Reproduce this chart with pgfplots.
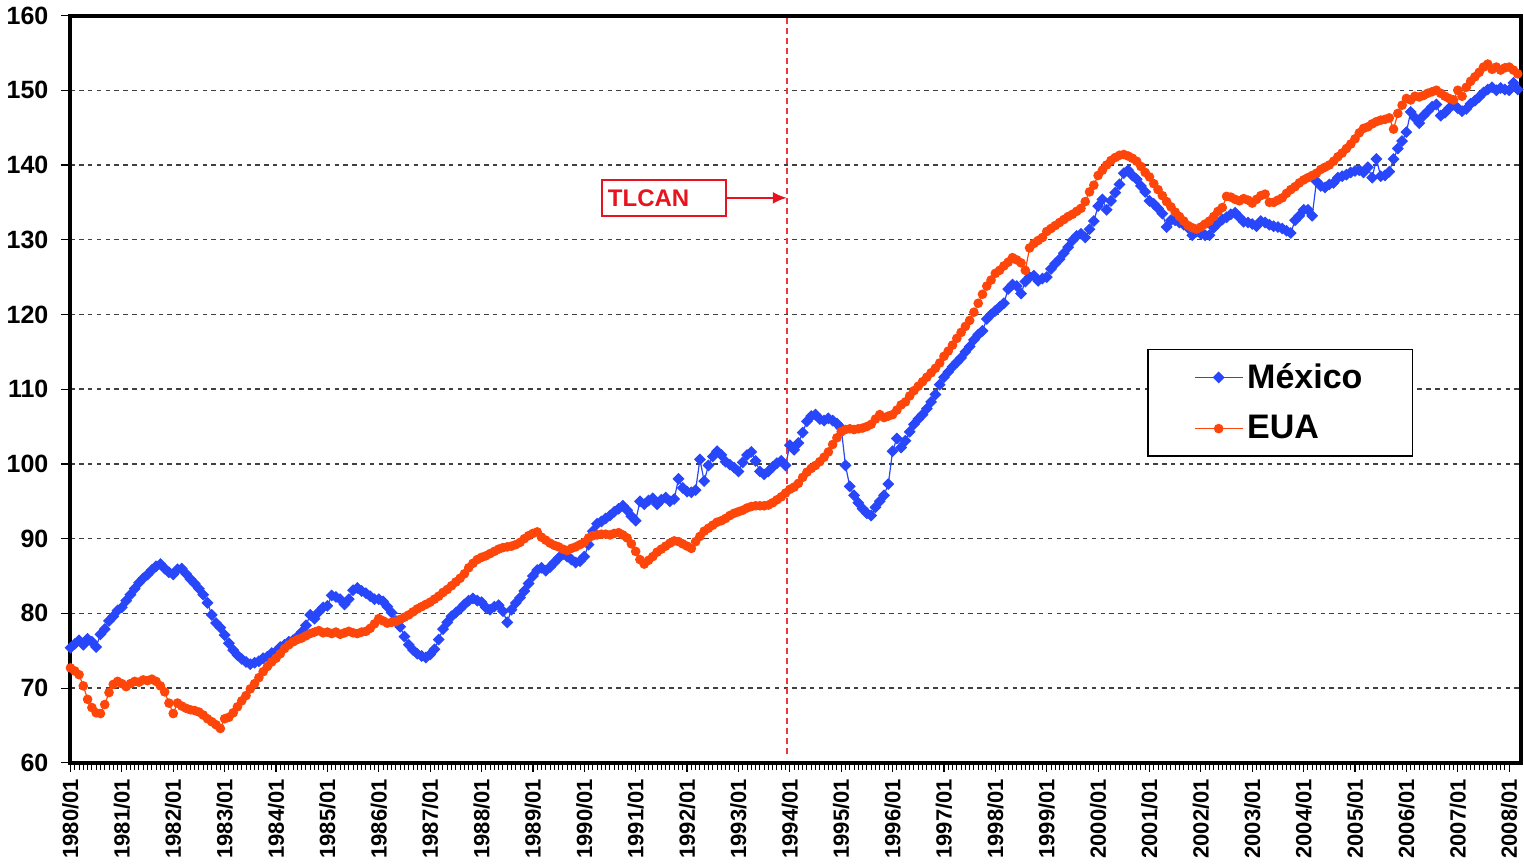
\documentclass[border=0pt]{standalone}
\usepackage{fontspec}
\setmainfont{Liberation Sans}
\usepackage{pgfplots}
\usepackage{pgfplotstable}
\pgfplotsset{compat=1.18}
\usetikzlibrary{arrows.meta}
\definecolor{mxblue}{RGB}{40,70,250}
\definecolor{euared}{RGB}{255,70,10}
\definecolor{tlred}{RGB}{230,20,30}

% Mexico, monthly from 1980/01
\pgfplotstableread[row sep=\\]{v\\
75.4\\ 75.9\\ 76.4\\ 75.8\\ 76.6\\ 76.2\\ 75.5\\ 77.2\\ 77.9\\ 79.0\\ 79.6\\ 80.4\\
80.8\\ 81.7\\ 82.5\\ 83.3\\ 84.1\\ 84.7\\ 85.2\\ 85.8\\ 86.3\\ 86.6\\ 86.0\\ 85.5\\
85.2\\ 85.9\\ 86.0\\ 85.3\\ 84.6\\ 84.0\\ 83.3\\ 82.5\\ 81.4\\ 79.8\\ 78.7\\ 78.1\\
77.1\\ 76.0\\ 75.1\\ 74.4\\ 73.9\\ 73.5\\ 73.2\\ 73.4\\ 73.6\\ 74.0\\ 74.2\\ 74.7\\
74.9\\ 75.5\\ 75.8\\ 76.2\\ 76.4\\ 76.9\\ 77.5\\ 78.4\\ 79.8\\ 79.3\\ 80.2\\ 80.8\\
81.0\\ 82.4\\ 82.2\\ 81.9\\ 81.2\\ 81.9\\ 83.1\\ 83.4\\ 83.0\\ 82.7\\ 82.3\\ 81.9\\
81.9\\ 81.6\\ 80.9\\ 80.1\\ 79.0\\ 78.2\\ 76.9\\ 75.8\\ 75.1\\ 74.6\\ 74.3\\ 74.1\\
74.5\\ 75.2\\ 76.5\\ 77.9\\ 78.8\\ 79.6\\ 80.1\\ 80.6\\ 81.2\\ 81.7\\ 82.0\\ 81.7\\
81.5\\ 80.8\\ 80.5\\ 80.9\\ 81.1\\ 80.3\\ 78.8\\ 80.5\\ 81.4\\ 82.1\\ 83.0\\ 84.0\\
85.0\\ 85.8\\ 86.1\\ 85.7\\ 86.2\\ 86.8\\ 87.4\\ 87.9\\ 87.6\\ 87.2\\ 86.8\\ 87.0\\
87.6\\ 89.2\\ 91.0\\ 92.0\\ 92.3\\ 92.7\\ 93.1\\ 93.6\\ 94.0\\ 94.4\\ 93.8\\ 93.0\\
92.4\\ 95.0\\ 94.6\\ 95.1\\ 95.4\\ 94.6\\ 95.2\\ 95.5\\ 95.0\\ 95.3\\ 98.0\\ 96.8\\
96.3\\ 96.2\\ 96.5\\ 100.6\\ 97.7\\ 99.8\\ 101.0\\ 101.7\\ 101.2\\ 100.3\\ 99.9\\ 99.5\\
99.0\\ 100.2\\ 101.2\\ 101.6\\ 100.4\\ 99.0\\ 98.6\\ 99.0\\ 99.6\\ 100.1\\ 100.4\\ 99.8\\
102.5\\ 101.9\\ 102.8\\ 104.2\\ 105.7\\ 106.4\\ 106.6\\ 106.0\\ 105.8\\ 106.1\\ 105.8\\ 105.4\\
104.8\\ 99.8\\ 97.0\\ 95.8\\ 94.8\\ 94.0\\ 93.4\\ 93.1\\ 94.2\\ 95.0\\ 95.8\\ 97.3\\
101.7\\ 103.4\\ 102.2\\ 103.1\\ 104.3\\ 105.3\\ 106.0\\ 106.6\\ 107.4\\ 108.3\\ 109.3\\ 110.6\\
111.6\\ 112.3\\ 113.0\\ 113.6\\ 114.2\\ 115.0\\ 115.7\\ 116.6\\ 117.3\\ 117.8\\ 119.4\\ 120.0\\
120.5\\ 121.0\\ 121.5\\ 123.4\\ 124.0\\ 123.8\\ 122.8\\ 124.4\\ 125.0\\ 125.2\\ 124.5\\ 124.8\\
125.0\\ 126.1\\ 126.8\\ 127.4\\ 128.2\\ 129.0\\ 129.9\\ 130.5\\ 130.8\\ 130.3\\ 131.4\\ 132.5\\
134.5\\ 135.4\\ 134.0\\ 135.2\\ 136.3\\ 137.4\\ 138.9\\ 139.3\\ 138.6\\ 138.1\\ 137.2\\ 136.4\\
135.2\\ 134.8\\ 134.2\\ 133.5\\ 131.7\\ 132.6\\ 132.6\\ 132.3\\ 132.0\\ 131.6\\ 130.6\\ 131.1\\
130.8\\ 130.6\\ 130.6\\ 131.6\\ 132.2\\ 132.7\\ 133.0\\ 133.4\\ 133.6\\ 133.0\\ 132.4\\ 132.3\\
132.1\\ 131.8\\ 132.5\\ 132.3\\ 132.0\\ 131.8\\ 131.7\\ 131.5\\ 131.2\\ 130.9\\ 132.6\\ 133.2\\
134.0\\ 134.0\\ 133.2\\ 137.8\\ 137.2\\ 137.0\\ 137.4\\ 137.6\\ 138.3\\ 138.5\\ 138.7\\ 139.0\\
139.2\\ 139.3\\ 139.0\\ 139.7\\ 138.3\\ 140.8\\ 138.5\\ 138.6\\ 139.1\\ 140.8\\ 142.2\\ 143.2\\
144.4\\ 147.1\\ 146.3\\ 145.6\\ 146.6\\ 147.2\\ 147.8\\ 148.1\\ 146.6\\ 147.0\\ 147.6\\ 148.1\\
147.6\\ 147.2\\ 147.5\\ 148.2\\ 148.6\\ 149.1\\ 149.7\\ 150.1\\ 150.4\\ 150.0\\ 150.3\\ 150.1\\
150.0\\ 151.0\\ 150.1\\
}\mex

% EUA, monthly from 1980/01
\pgfplotstableread[row sep=\\]{v\\
72.7\\ 72.3\\ 71.8\\ 70.3\\ 68.5\\ 67.4\\ 66.7\\ 66.6\\ 67.8\\ 69.4\\ 70.5\\ 70.9\\
70.6\\ 70.2\\ 70.6\\ 70.9\\ 70.8\\ 71.1\\ 71.0\\ 71.2\\ 70.9\\ 70.3\\ 69.5\\ 68.0\\
66.6\\ 68.0\\ 67.6\\ 67.3\\ 67.1\\ 67.0\\ 66.8\\ 66.4\\ 65.9\\ 65.5\\ 65.1\\ 64.6\\
65.9\\ 66.1\\ 66.7\\ 67.5\\ 68.3\\ 69.0\\ 69.9\\ 70.6\\ 71.4\\ 72.2\\ 72.9\\ 73.5\\
74.0\\ 74.6\\ 75.3\\ 75.8\\ 76.2\\ 76.5\\ 76.7\\ 77.0\\ 77.3\\ 77.5\\ 77.7\\ 77.4\\
77.5\\ 77.3\\ 77.5\\ 77.2\\ 77.4\\ 77.6\\ 77.4\\ 77.3\\ 77.5\\ 77.6\\ 78.0\\ 78.6\\
79.3\\ 79.0\\ 78.7\\ 78.8\\ 78.9\\ 79.2\\ 79.5\\ 79.8\\ 80.2\\ 80.6\\ 80.9\\ 81.2\\
81.5\\ 81.9\\ 82.3\\ 82.8\\ 83.2\\ 83.7\\ 84.2\\ 84.7\\ 85.3\\ 86.1\\ 86.7\\ 87.2\\
87.5\\ 87.7\\ 88.0\\ 88.3\\ 88.6\\ 88.8\\ 88.9\\ 89.0\\ 89.2\\ 89.5\\ 90.0\\ 90.4\\
90.7\\ 90.9\\ 90.2\\ 89.8\\ 89.4\\ 89.1\\ 88.9\\ 88.6\\ 88.4\\ 88.7\\ 88.9\\ 89.2\\
89.5\\ 90.1\\ 90.4\\ 90.5\\ 90.6\\ 90.6\\ 90.5\\ 90.7\\ 90.8\\ 90.5\\ 90.1\\ 89.3\\
88.3\\ 87.2\\ 86.6\\ 87.1\\ 87.6\\ 88.2\\ 88.6\\ 89.0\\ 89.4\\ 89.7\\ 89.6\\ 89.3\\
89.0\\ 88.7\\ 89.6\\ 90.3\\ 91.0\\ 91.4\\ 91.8\\ 92.2\\ 92.4\\ 92.7\\ 93.1\\ 93.4\\
93.6\\ 93.8\\ 94.1\\ 94.3\\ 94.4\\ 94.4\\ 94.4\\ 94.5\\ 94.8\\ 95.2\\ 95.6\\ 96.1\\
96.6\\ 96.9\\ 97.4\\ 98.2\\ 98.9\\ 99.4\\ 99.8\\ 100.3\\ 100.9\\ 101.6\\ 102.6\\ 103.5\\
104.3\\ 104.6\\ 104.7\\ 104.6\\ 104.7\\ 104.8\\ 105.0\\ 105.3\\ 106.0\\ 106.6\\ 106.2\\ 106.4\\
106.6\\ 107.2\\ 107.9\\ 108.3\\ 109.1\\ 109.8\\ 110.4\\ 111.0\\ 111.6\\ 112.2\\ 112.8\\ 113.5\\
114.4\\ 115.1\\ 115.9\\ 116.8\\ 117.6\\ 118.4\\ 119.2\\ 120.3\\ 121.5\\ 122.7\\ 123.8\\ 124.6\\
125.5\\ 125.9\\ 126.5\\ 127.0\\ 127.6\\ 127.3\\ 126.9\\ 125.9\\ 128.9\\ 129.5\\ 129.9\\ 130.3\\
131.1\\ 131.5\\ 131.9\\ 132.3\\ 132.7\\ 133.1\\ 133.4\\ 133.8\\ 134.2\\ 135.1\\ 136.4\\ 137.3\\
138.6\\ 139.3\\ 140.0\\ 140.6\\ 141.0\\ 141.3\\ 141.4\\ 141.2\\ 140.9\\ 140.5\\ 139.8\\ 139.0\\
138.4\\ 137.5\\ 136.7\\ 135.9\\ 135.1\\ 134.4\\ 133.7\\ 133.1\\ 132.5\\ 131.9\\ 131.6\\ 131.4\\
131.7\\ 132.1\\ 132.5\\ 133.1\\ 133.8\\ 134.3\\ 135.8\\ 135.7\\ 135.4\\ 135.2\\ 135.5\\ 135.3\\
134.9\\ 135.4\\ 135.9\\ 136.1\\ 135.0\\ 135.0\\ 135.3\\ 135.6\\ 136.2\\ 136.7\\ 137.1\\ 137.6\\
138.0\\ 138.3\\ 138.6\\ 138.9\\ 139.4\\ 139.7\\ 140.0\\ 140.5\\ 141.1\\ 141.6\\ 142.2\\ 142.8\\
143.5\\ 144.3\\ 144.9\\ 145.1\\ 145.5\\ 145.8\\ 146.0\\ 146.1\\ 146.3\\ 144.8\\ 146.9\\ 148.0\\
148.9\\ 148.7\\ 149.2\\ 149.1\\ 149.3\\ 149.6\\ 149.8\\ 150.0\\ 149.6\\ 149.2\\ 148.9\\ 148.7\\
150.0\\ 149.2\\ 150.4\\ 151.2\\ 151.8\\ 152.4\\ 153.1\\ 153.5\\ 152.8\\ 153.1\\ 152.7\\ 153.0\\
153.1\\ 152.7\\ 152.2\\
}\eua

\begin{document}
\begin{tikzpicture}
\begin{axis}[
  scale only axis,
  width=725pt, height=373.5pt,
  xmin=0, xmax=338.8, ymin=60, ymax=160,
  xtick={0,12,...,336},
  xticklabels={1980/01,1981/01,1982/01,1983/01,1984/01,1985/01,1986/01,1987/01,1988/01,1989/01,1990/01,1991/01,1992/01,1993/01,1994/01,1995/01,1996/01,1997/01,1998/01,1999/01,2000/01,2001/01,2002/01,2003/01,2004/01,2005/01,2006/01,2007/01,2008/01},
  minor x tick num=11,
  ytick={60,70,...,160},
  xtick pos=left, ytick pos=left,
  tick align=outside,
  major tick length=4.5pt, minor tick length=3.5pt,
  tick style={black, line width=0.6pt},
  minor tick style={black, line width=0.5pt},
  axis line style={black, line width=2pt},
  ymajorgrids,
  major grid style={black!75, line width=0.7pt, dash pattern=on 2.2pt off 2.2pt},
  x tick label style={rotate=90, anchor=east, font=\bfseries\fontsize{11}{12}\selectfont},
  y tick label style={font=\bfseries\fontsize{12.5}{14}\selectfont, xshift=-3pt},
  /pgf/number format/assume math mode=true,
  legend style={at={(0.834,0.482)}, anchor=center, draw=black, line width=0.8pt,
    font=\bfseries\fontsize{17}{20}\selectfont, inner xsep=23pt, inner ysep=5pt,
    row sep=8pt, fill=white},
  legend cell align=left,
  legend image code/.code={\draw[mark repeat=2,mark phase=2] plot coordinates {(0cm,0cm)(0.42cm,0cm)(0.84cm,0cm)};},
]
\addplot[mxblue, line width=0.6pt, mark=square*, mark size=1.8pt,
  mark options={fill=mxblue, draw=mxblue, rotate=45}] table[x expr=\coordindex, y=v] {\mex};
\addlegendentry{México}
\addplot[euared, line width=0.6pt, mark=*, mark size=2.1pt,
  mark options={fill=euared, draw=euared}] table[x expr=\coordindex, y=v] {\eua};
\addlegendentry{EUA}
\draw[tlred!85, line width=0.8pt, dash pattern=on 3pt off 2pt] (axis cs:167.3,61.2) -- (axis cs:167.3,160);
\node[draw=tlred, line width=0.8pt, text=tlred, font=\bfseries\fontsize{12}{14}\selectfont,
  text width=56pt, align=left, inner xsep=3pt, minimum height=18pt]
  (tl) at (axis cs:138.6,135.6) {TLCAN};
\draw[tlred, line width=1.1pt, -{Latex[length=7pt,width=6pt]}] (tl.east) -- (axis cs:167.3,135.6);
\end{axis}
\end{tikzpicture}
\end{document}
